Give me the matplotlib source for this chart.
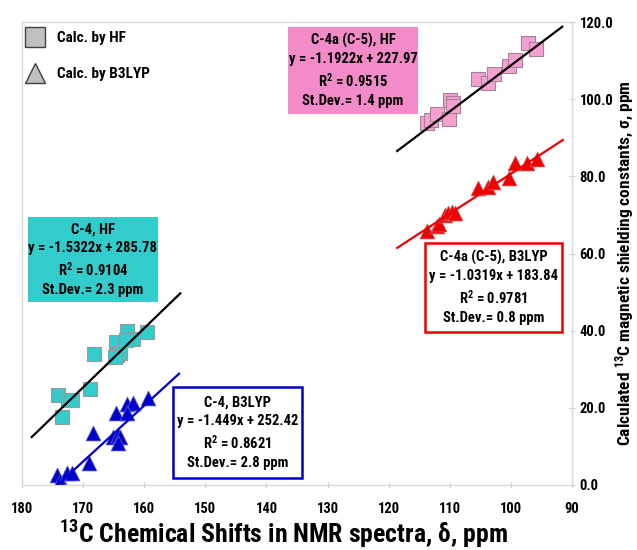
import numpy as np
import matplotlib
matplotlib.use("Agg")
import matplotlib.pyplot as plt
from matplotlib.patches import Rectangle
from matplotlib.lines import Line2D

plt.rcParams['font.family'] = ['Roboto Condensed', 'DejaVu Sans']
plt.rcParams['font.weight'] = 'bold'
plt.rcParams['mathtext.fontset'] = 'custom'
plt.rcParams['mathtext.rm'] = 'Roboto Condensed:bold'
plt.rcParams['mathtext.it'] = 'Roboto Condensed:bold'
plt.rcParams['mathtext.bf'] = 'Roboto Condensed:bold'

# C-4, HF
c4_hf_x = [174.1, 172.5, 171.8, 173.5, 168.9, 168.2, 164.6, 162.8, 161.8, 164.5, 164.0, 164.8, 159.5, 163.0]
c4_hf_y = [23.3, 22.0, 22.0, 17.6, 24.9, 34.0, 37.1, 39.9, 37.8, 33.7, 34.2, 33.2, 39.7, 37.6]
# C-4, B3LYP
c4_b3_x = [174.3, 173.5, 173.8, 172.6, 171.8, 169.0, 168.4, 164.6, 165.1, 164.3, 164.0, 164.3, 162.8, 161.8, 162.8, 159.4]
c4_b3_y = [2.6, 0.5, 1.0, 3.1, 3.1, 5.7, 13.5, 18.7, 12.4, 13.0, 12.4, 10.9, 21.0, 21.3, 18.7, 22.6]
# C-4a (C-5), HF
c4a_hf_x = [113.7, 113.0, 112.1, 110.1, 110.0, 109.5, 109.5, 105.4, 103.7, 102.7, 100.3, 99.3, 97.2, 95.9]
c4a_hf_y = [93.8, 94.5, 96.2, 94.9, 99.8, 99.0, 98.2, 105.3, 104.3, 106.4, 108.5, 110.1, 114.6, 113.1]
# C-4a (C-5), B3LYP
c4a_b3_x = [113.7, 112.1, 111.8, 110.8, 110.3, 109.6, 109.1, 105.4, 103.7, 102.9, 100.3, 99.3, 97.3, 95.7]
c4a_b3_y = [65.8, 67.1, 67.6, 70.0, 70.5, 70.8, 70.5, 77.0, 77.2, 78.5, 79.6, 83.5, 83.5, 84.5]

# trend lines: slope, intercept, x range
slopes = [-1.5322, -1.449, -1.1922, -1.0319]
intercepts = [285.78, 252.42, 227.97, 183.84]
fit_ranges = [(178.4, 154.1), (174.1, 154.3), (118.6, 91.6), (118.6, 91.5)]
line_colors = ['black', '#0000CC', 'black', '#EE0000']

box_texts = [
    "C-4, HF\ny = -1.5322x + 285.78\nR$^2$ = 0.9104\nSt.Dev.= 2.3 ppm",
    "C-4, B3LYP\ny = -1.449x + 252.42\nR$^2$ = 0.8621\nSt.Dev.= 2.8 ppm",
    "C-4a (C-5), HF\ny = -1.1922x + 227.97\nR$^2$ = 0.9515\nSt.Dev.= 1.4 ppm",
    "C-4a (C-5), B3LYP\ny = -1.0319x + 183.84\nR$^2$ = 0.9781\nSt.Dev.= 0.8 ppm",
]

xticks = [180, 170, 160, 150, 140, 130, 120, 110, 100, 90]
yticks = [0, 20, 40, 60, 80, 100, 120]

fig = plt.figure(figsize=(6.37, 5.5), dpi=100)
ax = fig.add_axes([22/637, 1-485/550, 550/637, 463/550])

ax.set_xlim(180, 90)
ax.set_ylim(0, 120)

for s, b, (x0, x1), c in zip(slopes, intercepts, fit_ranges, line_colors):
    xs = np.array([x0, x1])
    ax.plot(xs, s*xs + b, color=c, lw=1.6, zorder=3)

ax.scatter(c4_hf_x, c4_hf_y, marker='s', s=110, c='#33CCCC', edgecolors='#999999', linewidths=0.8, zorder=2)
ax.scatter(c4_b3_x, c4_b3_y, marker='^', s=115, c='#0000CC', edgecolors='#6666CC', linewidths=0.5, zorder=2)
ax.scatter(c4a_hf_x, c4a_hf_y, marker='s', s=110, c='#F7A0D2', edgecolors='#A0849A', linewidths=0.8, zorder=2)
ax.scatter(c4a_b3_x, c4a_b3_y, marker='^', s=115, c='#EE0000', edgecolors='#CC6666', linewidths=0.5, zorder=2)

# annotation boxes (axes fraction)
boxes = [
    ((0.011, 0.395), 0.236, 0.184, '#33CCCC', 'none'),
    ((0.275, 0.015), 0.234, 0.197, 'white', '#0000CC'),
    ((0.484, 0.801), 0.236, 0.188, '#F38BC8', 'none'),
    ((0.732, 0.330), 0.250, 0.193, 'white', '#EE0000'),
]
for (xy, w, h, fc, ec), txt in zip(boxes, box_texts):
    ax.add_patch(Rectangle(xy, w, h, transform=ax.transAxes, facecolor=fc,
                           edgecolor=ec, lw=1.8, zorder=4))
    ax.text(xy[0] + w/2, xy[1] + h/2, txt, transform=ax.transAxes, ha='center', va='center',
            fontsize=10.5, fontweight='bold', linespacing=1.4, zorder=5)

handles = [
    Line2D([], [], marker='s', ls='none', ms=14, mfc='#C0C0C0', mec='#404040', mew=1),
    Line2D([], [], marker='^', ls='none', ms=15, mfc='#C0C0C0', mec='#404040', mew=1),
]
ax.legend(handles, ['Calc. by HF', 'Calc. by B3LYP'], loc='upper left', bbox_to_anchor=(-0.03, 1.01),
          frameon=False, labelspacing=1.45, handletextpad=0.5, prop={'weight': 'bold', 'size': 11})

ax.set_xticks(xticks)
ax.set_xticklabels([str(t) for t in xticks])
ax.set_yticks(yticks)
ax.set_yticklabels([f"{t:.1f}" for t in yticks])
ax.yaxis.tick_right()
ax.yaxis.set_label_position('right')
ax.tick_params(axis='both', colors='#D0D0D0', labelcolor='black', labelsize=10.5, length=5, direction='inout')
ax.tick_params(axis='x', pad=10)
ax.tick_params(axis='y', pad=3)
for t in ax.get_xticklabels() + ax.get_yticklabels():
    t.set_fontweight('bold')
for sp in ax.spines.values():
    sp.set_color('#D9D9D9')
    sp.set_linewidth(1)

ax.set_xlabel('$^{13}$C Chemical Shifts in NMR spectra, δ, ppm', fontsize=18.5, fontweight='bold')
ax.xaxis.set_label_coords(0.475, -0.07)
ax.set_ylabel('Calculated $^{13}$C magnetic shielding constants, σ, ppm', fontsize=12.5, fontweight='bold')
ax.yaxis.set_label_coords(1.074, 0.48)

fig.savefig('out.png', dpi=100)
